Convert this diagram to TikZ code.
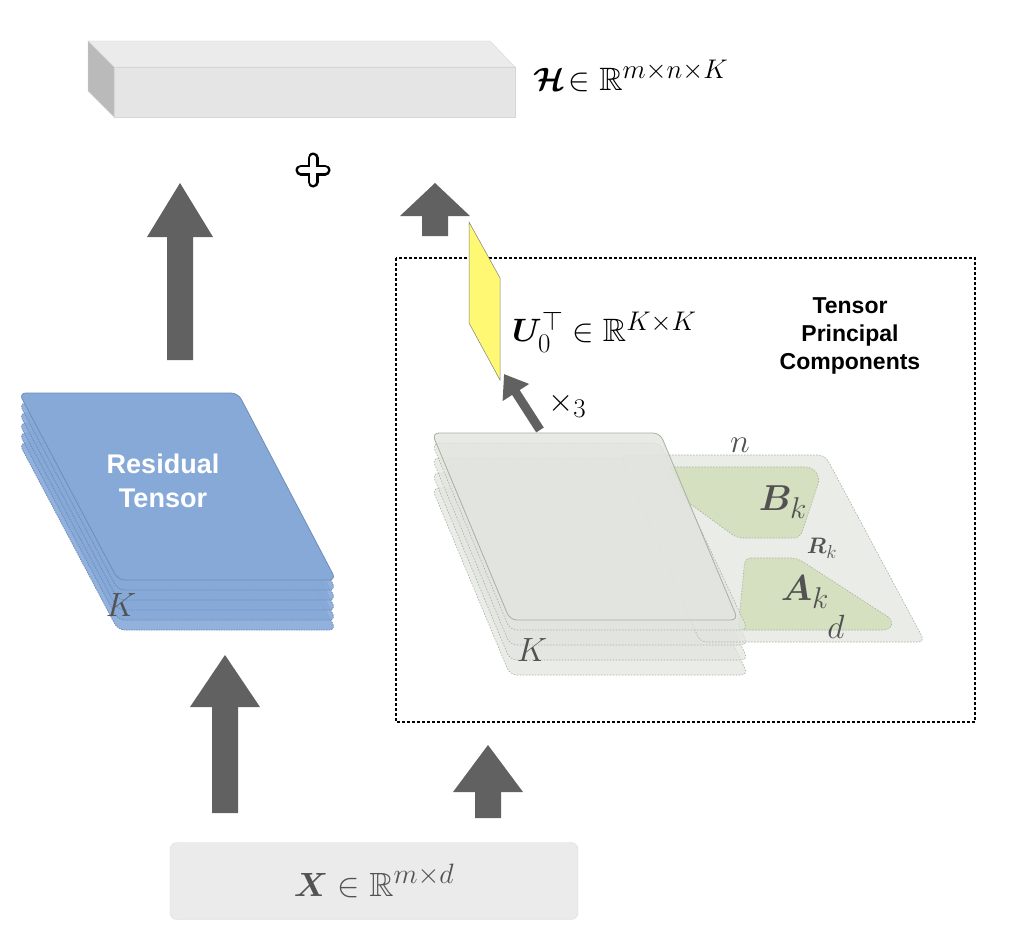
\documentclass[tikz,border=0pt]{standalone}
\usepackage{graphicx}
\usepackage{amsmath,amssymb,bm}
\usepackage{fontspec}
\newfontfamily\sans{Liberation Sans}
\usetikzlibrary{arrows.meta}
\newcommand\bigmath[2]{\scalebox{#1}{\Huge$#2$}}
\begin{document}
\begin{tikzpicture}[x=1pt,y=-1pt,
  blue/.style={fill=bluesh,draw=bluebd,line width=0.8,rounded corners=7},
  gsheet/.style={fill=gsh,fill opacity=0.75,draw=gbd,dash pattern=on 1.5pt off 1.5pt,line width=0.6,rounded corners=7},
  grn/.style={fill=grnf,draw=gbd,dash pattern=on 1.5pt off 1.5pt,line width=0.6,rounded corners=6},
  mlab/.style={text=black!68,inner sep=0}]
\definecolor{bluesh}{HTML}{86A9D8}
\definecolor{bluebd}{HTML}{6E8DB8}
\definecolor{gsh}{HTML}{E2E5DF}
\definecolor{gbd}{HTML}{A8B0A0}
\definecolor{grnf}{HTML}{D4E0C0}
\useasboundingbox (0,0) rectangle (1012,950);
% top box
\fill[fill=black!8,draw=black!16] (88,41)--(490,41)--(515,67)--(114,67)--cycle;
\fill[fill=black!27,draw=black!16] (88,41)--(114,67)--(114,117)--(88,91)--cycle;
\draw[fill=black!10,draw=black!16] (114,67) rectangle (515,117);
\node[anchor=west,inner sep=0] (H) at (533,76) {\bigmath{1.3}{\bm{\mathcal{H}}\!\in\mathbb{R}^{m\times n\times K}}};
% plus
\node (plus) at (313,170) {};
\draw[line width=11,line cap=round] (313,158)--(313,182) (301,170)--(325,170);
\draw[white,line width=6,line cap=round] (313,158)--(313,182) (301,170)--(325,170);
% block arrows
\newcommand\barrow[6]{\fill[black!62] (#1,#2)--(#1+#5,#3)--(#1+#6,#3)--(#1+#6,#4)--(#1-#6,#4)--(#1-#6,#3)--(#1-#5,#3)--cycle;}
\barrow{180}{183}{237}{360}{33}{13}
\barrow{435}{183}{216}{236}{35}{13}
\barrow{225}{655}{707}{813}{35}{13}
\barrow{488}{745}{792}{818}{35}{13}
% dashed box
\draw[densely dashed,line width=1.3] (396,258) rectangle (975,722);
% yellow
\draw[fill=yellow!55,draw=black!50,line width=0.5] (469,222)--(500,278)--(500,380)--(469,323)--cycle;
\node[anchor=west,inner sep=0] (U) at (512,332) {\bigmath{1.3}{\bm{U}_0^{\top}\in\mathbb{R}^{K\times K}}};
\node[font=\sans\bfseries\fontsize{23}{28}\selectfont,align=center] (tpc) at (850,336) {Tensor\\Principal\\Components};
% x3 arrow
\coordinate (x3s) at (540,430);
\coordinate (x3e) at (504,374);
\draw[black!62,line width=9,-{Triangle[length=22,width=30]}] (x3s)--(x3e);
\node[anchor=west,inner sep=0] at (548,405) {\bigmath{1.3}{\times_{3}}};
% blue stack
\foreach \d in {50,40,30,20,10}
  \draw[blue,dash pattern=on 1.5pt off 1pt,fill opacity=0.9] (19,393+\d)--(238,393+\d)--(336,580+\d)--(118,580+\d)--cycle;
\draw[blue] (19,393)--(238,393)--(336,580)--(118,580)--cycle;
\node[font=\sans\bfseries\fontsize{27}{34}\selectfont,text=white,align=center] (res) at (163,481) {Residual\\Tensor};
\node[mlab] (K1) at (121,605) {\bigmath{1.35}{K}};
% gray stack and back sheet
\foreach \d in {55,40,25}
  \draw[gsheet] (432,433+\d)--(660,433+\d)--(748,620+\d)--(510,620+\d)--cycle;
\draw[gsheet] (620,455)--(825,455)--(925,642)--(700,642)--cycle;
\draw[grn] (665,467)--(812,467)--(820,478)--(800,538)--(737,538)--(678,495)--cycle;
\draw[grn] (745,558)--(797,558)--(893,620)--(890,630)--(738,630)--cycle;
\draw[gsheet] (432,443)--(660,443)--(748,630)--(510,630)--cycle;
\draw[fill=gsh,fill opacity=0.8,draw=gbd,line width=0.8,rounded corners=7] (432,433)--(660,433)--(738,620)--(510,620)--cycle;
\node[mlab] (n) at (740,445) {\bigmath{1.35}{n}};
\node[mlab] (B) at (783,502) {\bigmath{1.45}{\bm{B}_k}};
\node[mlab] (R) at (822,548) {\bigmath{0.9}{\bm{R}_k}};
\node[mlab] (A) at (805,592) {\bigmath{1.45}{\bm{A}_k}};
\node[mlab] (d) at (836,627) {\bigmath{1.35}{d}};
\node[mlab] (K2) at (532,650) {\bigmath{1.35}{K}};
% X box
\node[draw=black!15,fill=black!8,rounded corners=7,minimum width=408,minimum height=77] (X) at (374,881) {};
\node[mlab] at (X) {\bigmath{1.35}{\bm{X}\in\mathbb{R}^{m\times d}}};
\end{tikzpicture}
\end{document}
